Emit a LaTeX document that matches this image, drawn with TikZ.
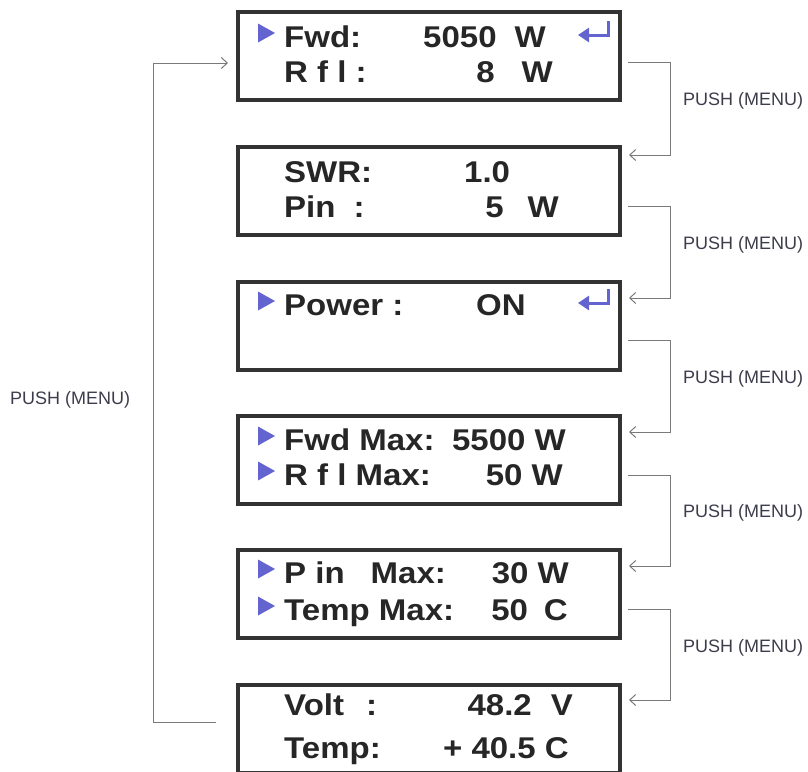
\documentclass[tikz,border=0pt]{standalone}
\usepackage{fontspec}
\newfontfamily\lcdfont[FakeStretch=1.1]{Liberation Sans}
\newfontfamily\notefont{Liberation Sans}
\usetikzlibrary{arrows.meta,positioning,calc}
\definecolor{frame}{HTML}{333333}
\definecolor{ink}{HTML}{262626}
\definecolor{cursorblue}{HTML}{6464D0}
\definecolor{wire}{HTML}{7A7A7A}
\definecolor{note}{HTML}{3C3C4C}

\begin{document}
\begin{tikzpicture}[x=1pt,y=-1pt,
    screen/.style={draw=frame, line width=3.5pt, minimum width=382pt,
                   minimum height=88pt, anchor=north west, inner sep=0pt},
    lbl/.style={anchor=base west, inner sep=0pt, text=ink,
                font=\lcdfont\bfseries\fontsize{30}{30}\selectfont},
    val/.style={lbl, anchor=base east},
    push/.style={draw=wire, line width=1pt, -{Straight Barb[length=6pt,width=11pt]}},
    note/.style={anchor=west, inner sep=0pt, text=note,
                 font=\notefont\fontsize{18}{18}\selectfont},
    cursor/.pic={\fill[cursorblue] (0,-9.5) -- (17,0) -- (0,9.5) -- cycle;},
    enterkey/.pic={\draw[cursorblue, line width=3pt,
                   -{Triangle[length=11pt,width=14pt]}] (30,-14) |- (0,0);},
]
\useasboundingbox (0,0) rectangle (808,771);

% LCD screens
\node[screen] (b1) at (236,10) {};
\node[screen] (b2) at (236,145) {};
\node[screen] (b3) at (236,280) {};
\node[screen] (b4) at (236,414) {};
\node[screen] (b5) at (236,548) {};
\node[screen] (b6) at (236,683) {};

% screen 1
\pic at (258,33) {cursor};
\node[lbl] (fwd) at (284,47) {Fwd:};
\node[val] (fwdv) at (546,47) {5050\hspace{18pt}W};
\pic at (578,35) {enterkey};
\node[lbl] (rfl) at (284,82) {R f l :};
\node[val] (rflv) at (553,82) {8\hspace{27pt}W};

% screen 2
\node[lbl] (swr) at (284,182) {SWR:};
\node[lbl] (swrv) at (464,182) {1.0};
\node[lbl] (pin) at (284,217) {Pin\hspace{18pt}:};
\node[val] (pinv) at (559,217) {5\hspace{24pt}W};

% screen 3
\pic at (258,301) {cursor};
\node[lbl] (power) at (284,315) {Power :};
\node[lbl] (powerv) at (476,315) {ON};
\pic at (578,303) {enterkey};

% screen 4
\pic at (258,436) {cursor};
\node[lbl] (fwdmax) at (284,450) {Fwd Max:};
\node[val] (fwdmaxv) at (566,450) {5500 W};
\pic at (258,471) {cursor};
\node[lbl] (rflmax) at (284,485) {R f l Max:};
\node[val] (rflmaxv) at (563,485) {50 W};

% screen 5
\pic at (258,569) {cursor};
\node[lbl] (pinmax) at (284,583) {P in\hspace{26pt}Max:};
\node[val] (pinmaxv) at (569,583) {30 W};
\pic at (258,606) {cursor};
\node[lbl] (tempmax) at (284,620) {Temp Max:};
\node[val] (tempmaxv) at (568,620) {50\hspace{16pt}C};

% screen 6
\node[lbl] (volt) at (284,715) {Volt\hspace{22pt}:};
\node[val] (voltv) at (573,715) {48.2\hspace{19pt}V};
\node[lbl] (temp) at (284,758) {Temp:};
\node[val] (tempv) at (569,758) {+ 40.5 C};

% menu steps
\coordinate (o1) at (628,62);  \coordinate (i2) at (629,155);
\coordinate (o2) at (628,206); \coordinate (i3) at (629,298);
\coordinate (o3) at (628,340); \coordinate (i4) at (629,432);
\coordinate (o4) at (628,475); \coordinate (i5) at (629,566);
\coordinate (o5) at (628,609); \coordinate (i6) at (629,700);
\coordinate (back) at (216,722); \coordinate (i1) at (228,63);

\draw[push] (o1) -- ++(42,0) |- (i2);
\draw[push] (o2) -- ++(42,0) |- (i3);
\draw[push] (o3) -- ++(42,0) |- (i4);
\draw[push] (o4) -- ++(42,0) |- (i5);
\draw[push] (o5) -- ++(42,0) |- (i6);
\draw[push] (back) -- ++(-63,0) |- (i1);

\node[note] (p1) at (683,101) {PUSH (MENU)};
\node[note] (p2) at (683,245) {PUSH (MENU)};
\node[note] (p3) at (683,379) {PUSH (MENU)};
\node[note] (p4) at (683,513) {PUSH (MENU)};
\node[note] (p5) at (683,648) {PUSH (MENU)};
\node[note] (p0) at (10,400) {PUSH (MENU)};

\end{tikzpicture}
\end{document}
